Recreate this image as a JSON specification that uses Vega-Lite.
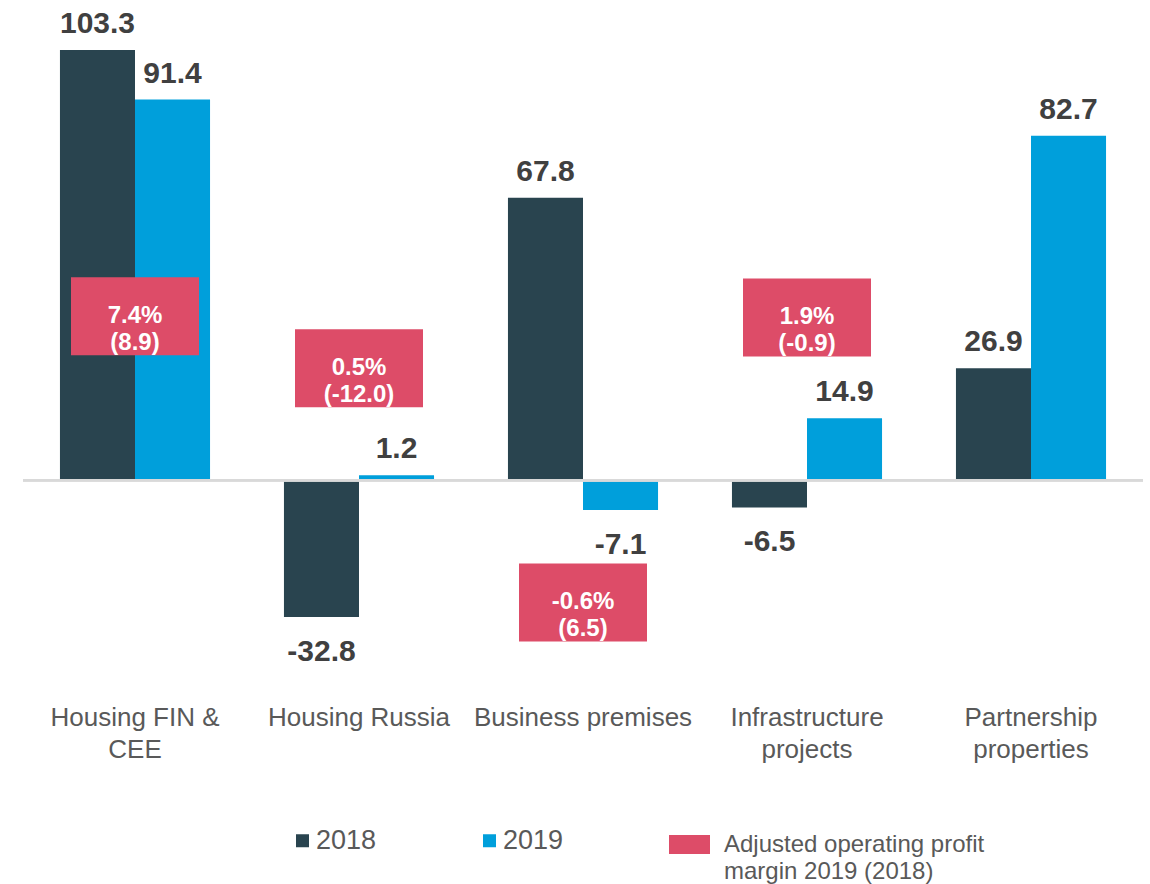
{
  "$schema": "https://vega.github.io/schema/vega-lite/v6.json",
  "width": 1120,
  "height": 625,
  "autosize": {"type": "none"},
  "padding": {"left": 23, "top": 22, "right": 7, "bottom": 237},
  "background": "white",
  "config": {"view": {"stroke": null}, "font": "Liberation Sans", "style": {"guide-label": {"lineHeight": 27}}},
  "datasets": {
    "bars": [
      {"category": "Housing FIN & CEE", "year": "2018", "value": 103.3},
      {"category": "Housing FIN & CEE", "year": "2019", "value": 91.4},
      {"category": "Housing Russia", "year": "2018", "value": -32.8},
      {"category": "Housing Russia", "year": "2019", "value": 1.2},
      {"category": "Business premises", "year": "2018", "value": 67.8},
      {"category": "Business premises", "year": "2019", "value": -7.1},
      {"category": "Infrastructure projects", "year": "2018", "value": -6.5},
      {"category": "Infrastructure projects", "year": "2019", "value": 14.9},
      {"category": "Partnership properties", "year": "2018", "value": 26.9},
      {"category": "Partnership properties", "year": "2019", "value": 82.7}
    ],
    "margins": [
      {"category": "Housing FIN & CEE", "series": "Adjusted operating profit margin 2019 (2018)", "labelY": 39.4, "text": "7.4%\n(8.9)"},
      {"category": "Housing Russia", "series": "Adjusted operating profit margin 2019 (2018)", "labelY": 26.9, "text": "0.5%\n(-12.0)"},
      {"category": "Business premises", "series": "Adjusted operating profit margin 2019 (2018)", "labelY": -29.3, "text": "-0.6%\n(6.5)"},
      {"category": "Infrastructure projects", "series": "Adjusted operating profit margin 2019 (2018)", "labelY": 39.1, "text": "1.9%\n(-0.9)"}
    ]
  },
  "layer": [
    {
      "data": {"name": "bars"},
      "mark": {"type": "bar"},
      "encoding": {
        "x": {
          "field": "category", "type": "nominal", "sort": null,
          "scale": {"paddingInner": 0.33, "paddingOuter": 0.165},
          "axis": {
            "title": null, "domain": false, "ticks": false, "labelAngle": 0,
            "labelPadding": 57, "labelFontSize": 26, "labelColor": "#595959",
            "labelFont": "Liberation Sans", "labelLineHeight": 32, "labelLimit": 300,
            "labelExpr": "datum.label == 'Housing FIN & CEE' ? ['Housing FIN &', 'CEE'] : datum.label == 'Infrastructure projects' ? ['Infrastructure', 'projects'] : datum.label == 'Partnership properties' ? ['Partnership', 'properties'] : datum.label"
          }
        },
        "xOffset": {"field": "year", "type": "nominal", "scale": {"paddingInner": 0, "paddingOuter": 0}},
        "y": {"field": "value", "type": "quantitative", "scale": {"domain": [-40, 110], "nice": false, "zero": false}, "axis": null},
        "color": {
          "field": "year", "type": "nominal",
          "scale": {"domain": ["2018", "2019"], "range": ["#29444F", "#009FDB"]},
          "legend": {
            "orient": "none", "legendX": 266, "legendY": 805, "direction": "horizontal",
            "title": null, "symbolType": "square", "symbolSize": 169, "symbolStrokeWidth": 0,
            "labelFontSize": 27, "labelFont": "Liberation Sans", "labelColor": "#595959",
            "labelOffset": 0, "columnPadding": 99, "padding": 0
          }
        }
      }
    },
    {
      "data": {"name": "bars"},
      "mark": {"type": "rule", "color": "#D9D9D9", "strokeWidth": 2},
      "encoding": {"y": {"datum": 0, "type": "quantitative"}}
    },
    {
      "data": {"name": "bars"},
      "transform": [{"filter": "datum.value >= 0"}],
      "mark": {"type": "text", "fontSize": 30, "fontWeight": "bold", "color": "#404040", "baseline": "alphabetic", "dy": -17},
      "encoding": {
        "x": {"field": "category", "type": "nominal", "sort": null},
        "xOffset": {"field": "year", "type": "nominal"},
        "y": {"field": "value", "type": "quantitative"},
        "text": {"field": "value", "type": "nominal"}
      }
    },
    {
      "data": {"name": "bars"},
      "transform": [{"filter": "datum.value < 0"}],
      "mark": {"type": "text", "fontSize": 30, "fontWeight": "bold", "color": "#404040", "baseline": "alphabetic", "dy": 44},
      "encoding": {
        "x": {"field": "category", "type": "nominal", "sort": null},
        "xOffset": {"field": "year", "type": "nominal"},
        "y": {"field": "value", "type": "quantitative"},
        "text": {"field": "value", "type": "nominal"}
      }
    },
    {
      "data": {"name": "margins"},
      "mark": {"type": "point", "shape": "M-1.641,-1H1.641V1H-1.641Z", "size": 6084, "filled": true, "opacity": 1, "strokeWidth": 0},
      "encoding": {
        "x": {"field": "category", "type": "nominal", "sort": null},
        "y": {"field": "labelY", "type": "quantitative"},
        "fill": {
          "field": "series", "type": "nominal",
          "scale": {"range": ["#DD4C68"]},
          "legend": {
            "orient": "none", "legendX": 646, "legendY": 802, "title": null,
            "symbolType": "M-1,-0.463H1V0.463H-1Z", "symbolSize": 1681, "symbolStrokeWidth": 0, "symbolOpacity": 1,
            "labelFontSize": 24, "labelFont": "Liberation Sans", "labelColor": "#595959",
            "labelOffset": 14, "labelLimit": 400, "padding": 0,
            "labelExpr": "['Adjusted operating profit', 'margin 2019 (2018)']"
          }
        }
      }
    },
    {
      "data": {"name": "margins"},
      "mark": {"type": "text", "fontSize": 24, "fontWeight": "bold", "color": "white", "lineBreak": "\n", "lineHeight": 27, "baseline": "middle"},
      "encoding": {
        "x": {"field": "category", "type": "nominal", "sort": null},
        "y": {"field": "labelY", "type": "quantitative"},
        "text": {"field": "text", "type": "nominal"}
      }
    }
  ]
}
